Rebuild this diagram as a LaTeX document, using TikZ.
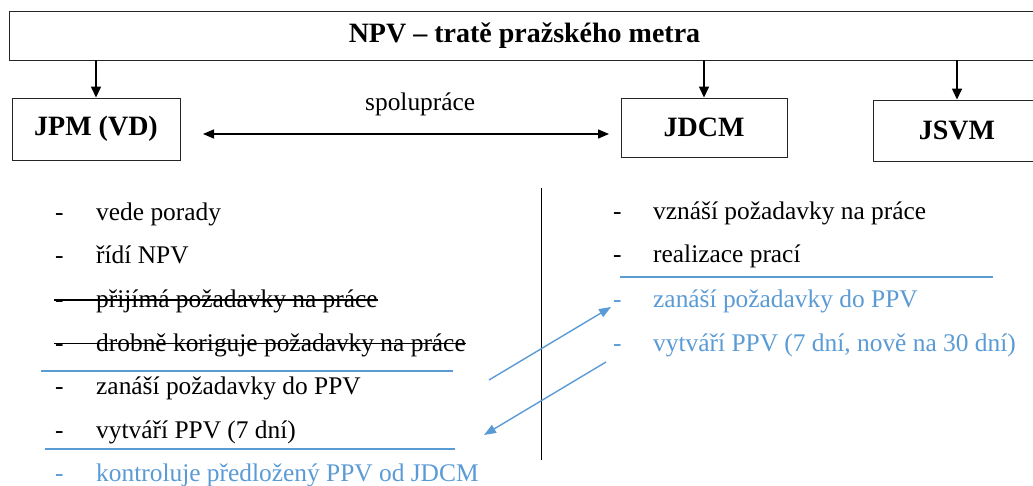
\documentclass[tikz,border=0pt]{standalone}
\usepackage{fontspec}
\setmainfont{Liberation Serif}
\usetikzlibrary{arrows.meta,calc}
\definecolor{lblue}{HTML}{5B9BD5}
\begin{document}
\begin{tikzpicture}[x=1pt,y=-1pt,
  box/.style={draw=black!85,line width=0.9pt,font=\fontsize{28}{32}\selectfont\bfseries,inner sep=0pt},
  arr/.style={line width=1.4pt,-{Triangle[length=11pt,width=10pt]}},
  darr/.style={line width=1.4pt,{Triangle[length=11pt,width=9pt]}-{Triangle[length=11pt,width=9pt]}},
  barr/.style={lblue,line width=1.4pt,-{Triangle[length=12pt,width=9pt]}},
  sep/.style={lblue,line width=1.1pt},
  txt/.style={anchor=base west,inner sep=0pt,font=\fontsize{25.4}{30}\selectfont},
  btxt/.style={txt,text=lblue},
  strike/.style={line width=1.1pt}]
\useasboundingbox (0,0) rectangle (1033,486);
\fill[white] (0,0) rectangle (1033,486);
% boxes
\node[box,minimum width=1031pt,minimum height=49pt] (top) at (524.5,35.5) {NPV -- tratě pražského metra};
\node[box,minimum width=168pt,minimum height=62pt] (jpm) at (96,129) {JPM (VD)};
\node[box,minimum width=166pt,minimum height=59pt] (jdcm) at (704,127.5) {JDCM};
\node[box,minimum width=168pt,minimum height=61pt] (jsvm) at (957,130.5) {JSVM};
\draw[arr] (top.south -| jpm.north) -- (jpm.north);
\draw[arr] (top.south -| jdcm.north) -- (jdcm.north);
\draw[arr] (top.south -| jsvm.north) -- (jsvm.north);
% cooperation
\coordinate (cA) at (203,134);
\coordinate (cB) at (609,134);
\draw[darr] (cA) -- (cB);
\node[txt] (spol) at (365,111) {spolupráce};
% divider
\coordinate (vT) at (541,188);
\coordinate (vB) at (541,460);
\draw[line width=0.9pt] (vT) -- (vB);
% left list
\node[txt] (ld1) at (55,220.5) {-};
\node[txt] (lt1) at (96,220.5) {vede porady};
\node[txt] (ld2) at (55,264) {-};
\node[txt] (lt2) at (96,264) {řídí NPV};
\node[txt] (ld3) at (55,307.5) {-};
\node[txt] (lt3) at (96,307.5) {přijímá požadavky na práce};
\node[txt] (ld4) at (55,351) {-};
\node[txt] (lt4) at (96,351) {drobně koriguje požadavky na práce};
\node[txt] (ld5) at (55,394.5) {-};
\node[txt] (lt5) at (96,394.5) {zanáší požadavky do PPV};
\node[txt] (ld6) at (55,438) {-};
\node[txt] (lt6) at (96,438) {vytváří PPV (7 dní)};
\node[btxt] (ld7) at (55,481.5) {-};
\node[btxt] (lt7) at (96,481.5) {kontroluje předložený PPV od JDCM};
\draw[strike] (54,300) -- (lt3.east |- 0,300);
\draw[strike] (54,343.5) -- (lt4.east |- 0,343.5);
\draw[sep] (41,371) -- (453,371);
\draw[sep] (45,449) -- (455,449);
% right list
\node[txt] (rd1) at (613,219.5) {-};
\node[txt] (rt1) at (653,219.5) {vznáší požadavky na práce};
\node[txt] (rd2) at (613,263) {-};
\node[txt] (rt2) at (653,263) {realizace prací};
\node[btxt] (rd3) at (613,307.5) {-};
\node[btxt] (rt3) at (653,307.5) {zanáší požadavky do PPV};
\node[btxt] (rd4) at (613,351.5) {-};
\node[btxt] (rt4) at (653,351.5) {vytváří PPV (7 dní, nově na 30 dní)};
\draw[sep] (620,277) -- (993,277);
% blue arrows
\coordinate (a1s) at (489,380);
\coordinate (a1e) at (611,307);
\coordinate (a2s) at (606,362);
\coordinate (a2e) at (484,435);
\draw[barr] (a1s) -- (a1e);
\draw[barr] (a2s) -- (a2e);
\end{tikzpicture}
\end{document}
